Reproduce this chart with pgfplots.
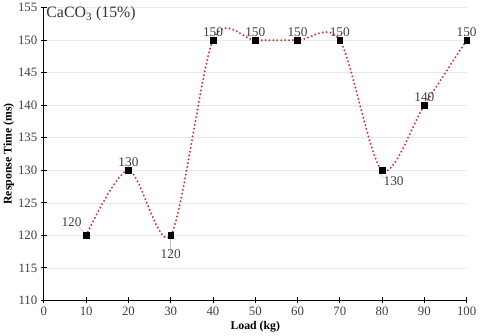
\documentclass[border=0pt]{standalone}
\usepackage{pgfplots}
\pgfplotsset{compat=1.18}
\usepackage{fontspec}
\setmainfont{Liberation Serif}
\definecolor{dotred}{RGB}{204,60,60}

\begin{document}
\begin{tikzpicture}
  \begin{axis}[
    width=413pt, height=286pt,
    scale only axis,
    xmin=0, xmax=100, ymin=110, ymax=155,
    xtick distance=10, ytick distance=5,
    axis x line*=bottom, axis y line*=left,
    axis line style={black, line width=1pt},
    tick style={black, line width=0.9pt},
    tick align=center, major tick length=6pt,
    ymajorgrids, grid style={gray!18, line width=0.6pt},
    tick label style={font=\fontsize{12.5}{14}\selectfont, text=black!75},
    /pgf/number format/assume math mode=true,
    xlabel={\textbf{Load (kg)}},
    ylabel={\textbf{Response Time (ms)}},
    label style={font=\fontsize{11.5}{13}\selectfont},
    xlabel style={yshift=1pt},
    ylabel style={yshift=-3pt},
    clip=false,
  ]
  \addplot[smooth, tension=0.5, dotred, line width=2.2pt, dash pattern=on 0pt off 3.8pt, line cap=round]
    coordinates {(10,120)(20,130)(30,120)(40,150)(50,150)(60,150)(70,150)(80,130)(90,140)(100,150)};
  \addplot[only marks, mark=square*, mark size=2.8pt, black]
    coordinates {(10,120)(20,130)(30,120)(40,150)(50,150)(60,150)(70,150)(80,130)(90,140)(100,150)};
  % data labels
  \addplot[draw=none, nodes near coords, point meta=y,
    nodes near coords style={font=\fontsize{13}{15}\selectfont, text=black!75, anchor=south, yshift=0pt}]
    coordinates {(20,130)(40,150)(50,150)(60,150)(70,150)(90,140)(100,150)};
  \addplot[draw=none, nodes near coords, point meta=y,
    nodes near coords style={font=\fontsize{13}{15}\selectfont, text=black!75, anchor=south east, xshift=-1pt, yshift=5pt}]
    coordinates {(10,120)};
  \addplot[draw=none, nodes near coords, point meta=y,
    nodes near coords style={font=\fontsize{13}{15}\selectfont, text=black!75, anchor=north, yshift=-10pt}]
    coordinates {(30,120)};
  \addplot[draw=none, nodes near coords, point meta=y,
    nodes near coords style={font=\fontsize{13}{15}\selectfont, text=black!75, anchor=north west, xshift=-2pt, yshift=-3pt}]
    coordinates {(80,130)};
  \draw[gray!50, line width=0.5pt] (axis cs:8.0,121.5) -- (axis cs:9.5,120.4);
  \draw[gray!50, line width=0.5pt] (axis cs:30,119.5) -- (axis cs:30,117.3);
  \draw[gray!50, line width=0.5pt] (axis cs:79.5,129.6) -- (axis cs:80.3,128.8);
  \node[anchor=north west, font=\fontsize{15.5}{17}\selectfont, text=black!80, inner sep=1pt] at (axis cs:0.3,155.3) {CaCO\textsubscript{3} (15\%)};
  \end{axis}
\end{tikzpicture}
\end{document}
